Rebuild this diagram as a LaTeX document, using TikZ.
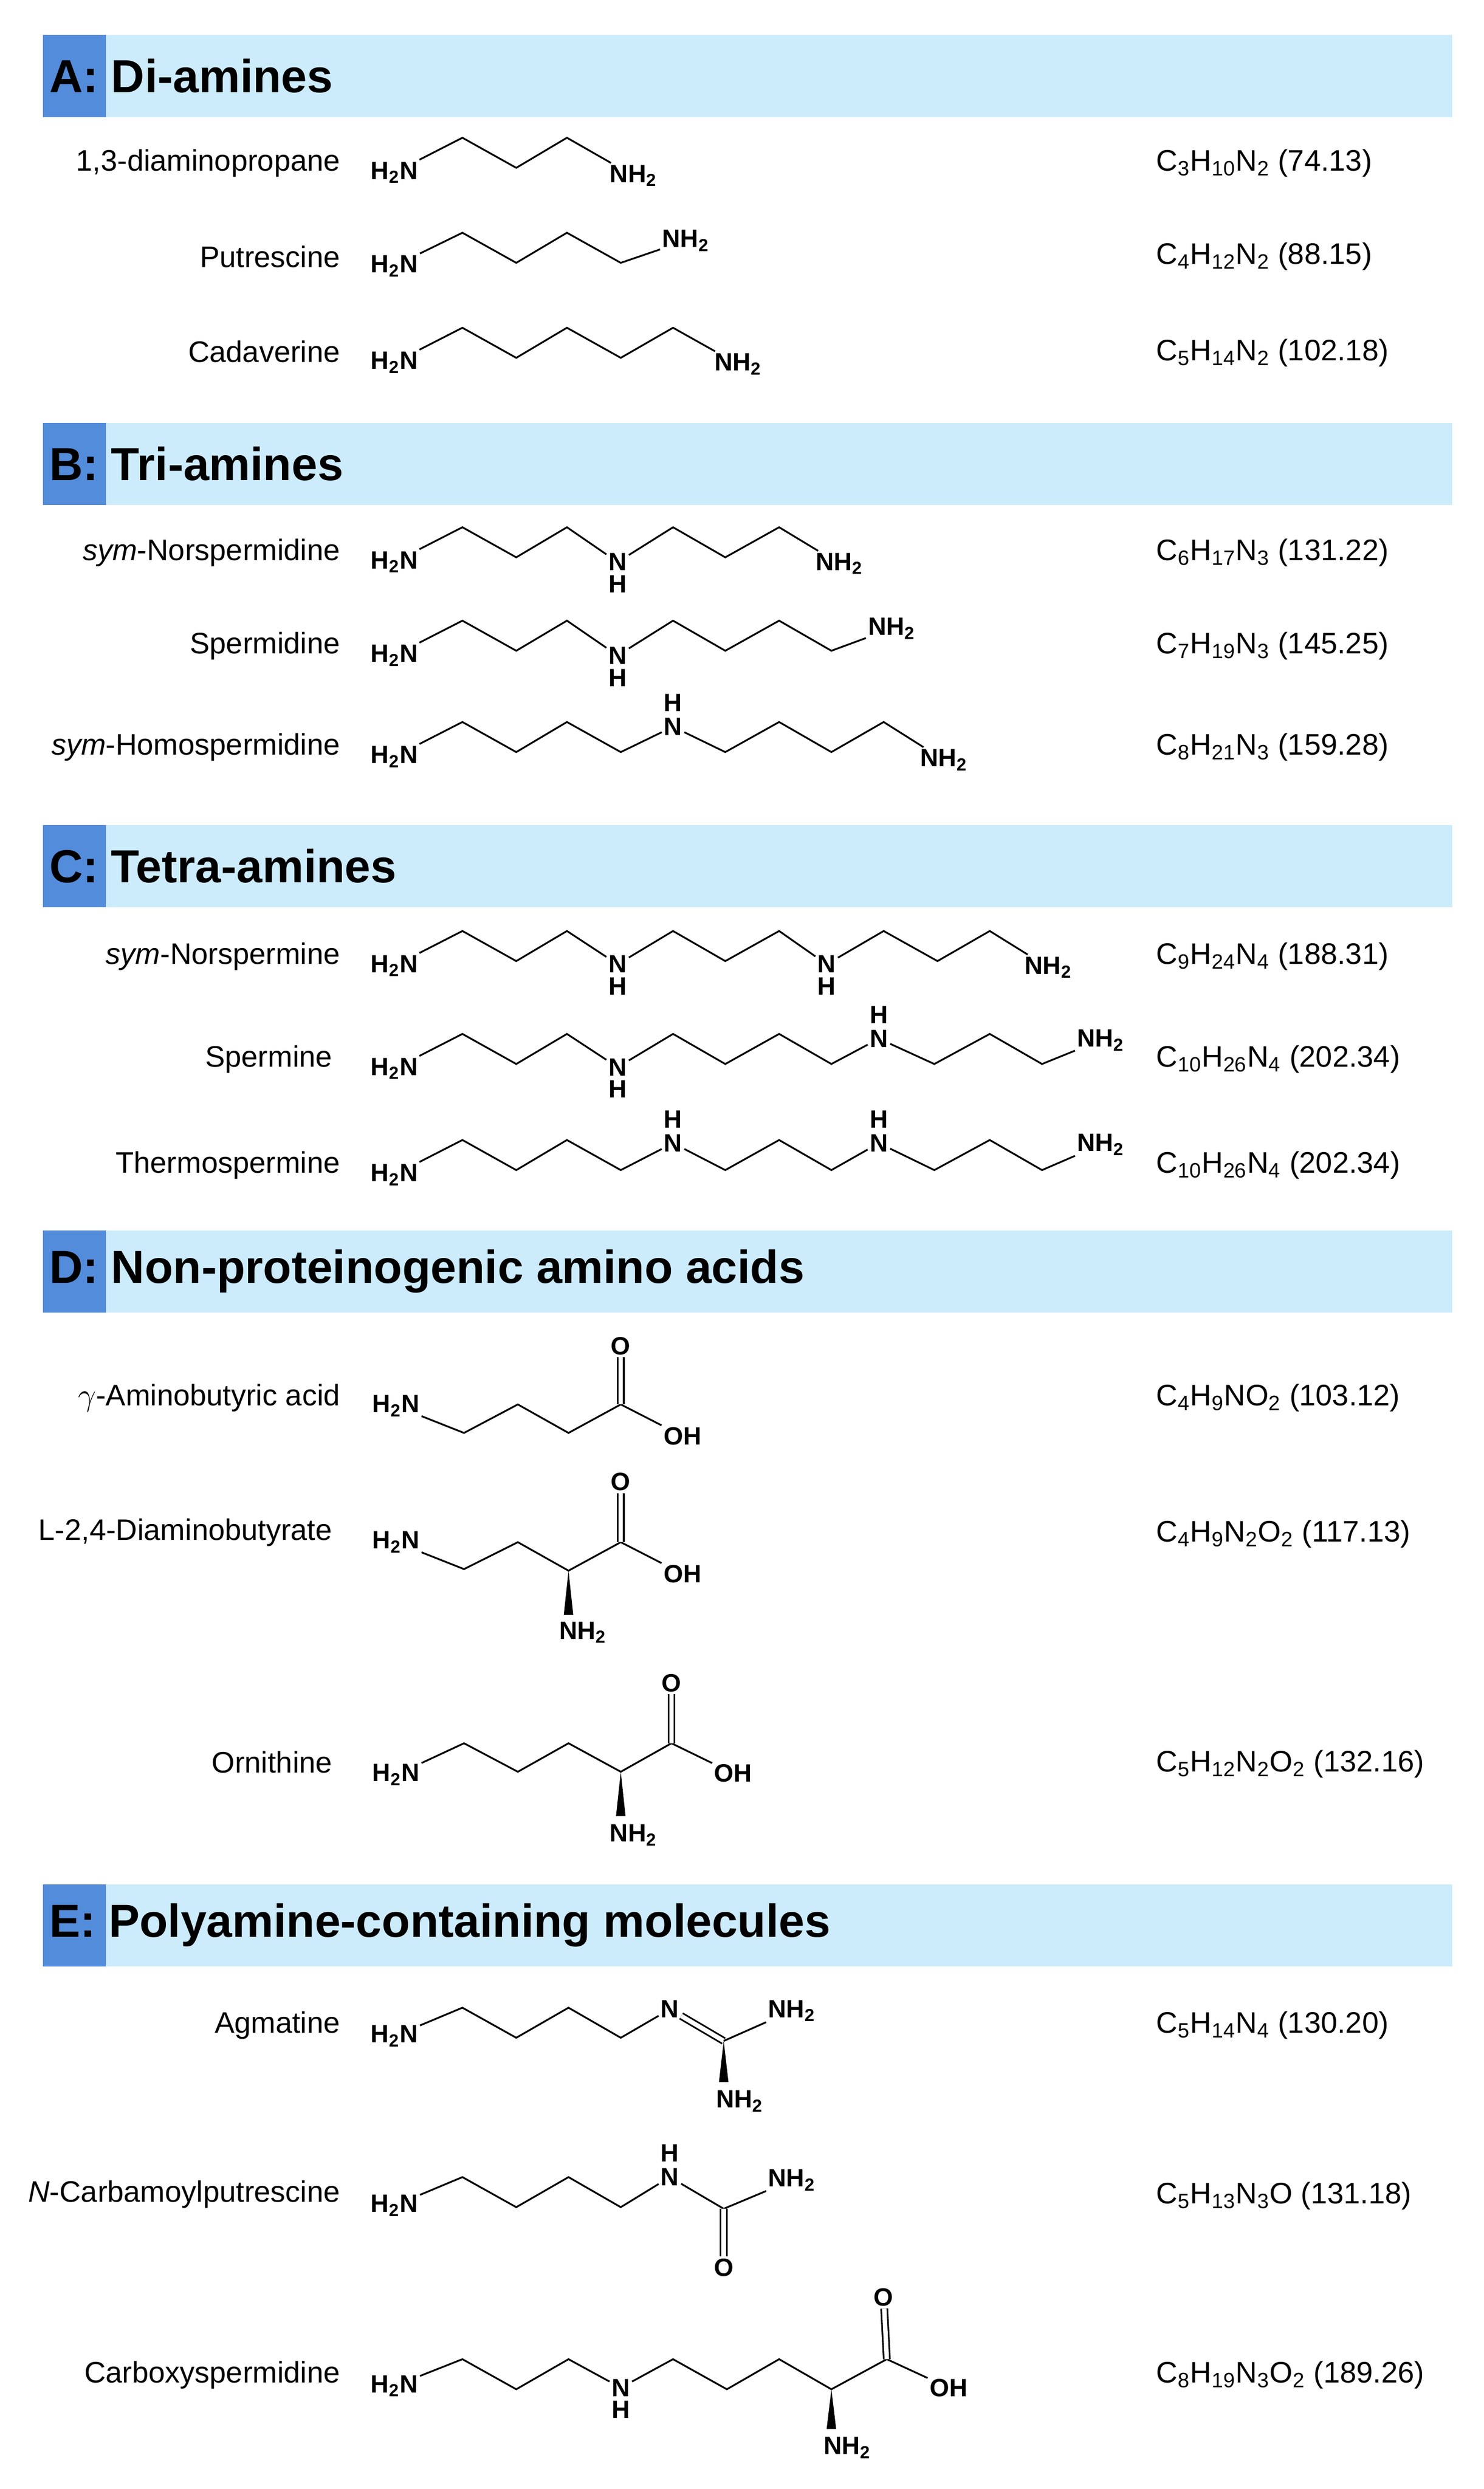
\documentclass[tikz,border=0pt]{standalone}
\usepackage{fontspec}
\setmainfont{Liberation Sans}
\definecolor{bandc}{RGB}{204,236,252}
\definecolor{tabc}{RGB}{84,140,220}
\begin{document}
\begin{tikzpicture}[x=0.03cm,y=-0.03cm,
  bd/.style={line width=0.95pt},
  dbl/.style={line width=0.9pt,double,double distance=2.4pt},
  atm/.style={font=\bfseries\fontsize{13.5}{13.5}\selectfont,inner sep=1pt},
  nm/.style={font=\fontsize{16}{16}\selectfont,anchor=east,inner sep=0pt},
  fm/.style={font=\fontsize{16}{16}\selectfont,anchor=west,inner sep=0pt},
  band/.style={fill=bandc,draw=none},
  tab/.style={fill=tabc,draw=none},
  ttl/.style={font=\bfseries\fontsize{25}{25}\selectfont,anchor=west,inner sep=0pt}]
\useasboundingbox (0,0) rectangle (937,1572);
\fill[white] (0,0) rectangle (937,1572);
% headers
\foreach \y/\t [count=\i] in {22/{A:~Di-amines},267/{B:~Tri-amines},521/{C:~Tetra-amines},777/{D:~Non-proteinogenic amino acids},1190/{E:~Polyamine-containing molecules}}{
  \fill[band] (27,\y) rectangle (917,\y+52);
  \fill[tab] (27,\y) rectangle (67,\y+52);
  \node[ttl] (h\i) at (31,\y+26) {\t};
}
% names
\node[nm] (m1) at (215,103) {1,3-diaminopropane};
\node[nm] (m2) at (215,162) {Putrescine};
\node[nm] (m3) at (215,222) {Cadaverine};
\node[nm] (m4) at (215,349) {\textit{sym}-Norspermidine};
\node[nm] (m5) at (215,408) {Spermidine};
\node[nm] (m6) at (215,472) {\textit{sym}-Homospermidine};
\node[nm] (m7) at (215,604) {\textit{sym}-Norspermine};
\node[nm] (m8) at (210,669) {Spermine};
\node[nm] (m9) at (215,736) {Thermospermine};
\node[nm] (m10) at (215,883) {$\gamma$-Aminobutyric acid};
\node[nm] (m11) at (210,968) {L-2,4-Diaminobutyrate};
\node[nm] (m12) at (210,1113) {Ornithine};
\node[nm] (m13) at (215,1279) {Agmatine};
\node[nm] (m14) at (215,1386) {\textit{N}-Carbamoylputrescine};
\node[nm] (m15) at (215,1500) {Carboxyspermidine};
% formulas
\node[fm] (f1) at (730,103) {C\textsubscript{3}H\textsubscript{10}N\textsubscript{2} (74.13)};
\node[fm] (f2) at (730,162) {C\textsubscript{4}H\textsubscript{12}N\textsubscript{2} (88.15)};
\node[fm] (f3) at (730,223) {C\textsubscript{5}H\textsubscript{14}N\textsubscript{2} (102.18)};
\node[fm] (f4) at (730,349) {C\textsubscript{6}H\textsubscript{17}N\textsubscript{3} (131.22)};
\node[fm] (f5) at (730,408) {C\textsubscript{7}H\textsubscript{19}N\textsubscript{3} (145.25)};
\node[fm] (f6) at (730,472) {C\textsubscript{8}H\textsubscript{21}N\textsubscript{3} (159.28)};
\node[fm] (f7) at (730,604) {C\textsubscript{9}H\textsubscript{24}N\textsubscript{4} (188.31)};
\node[fm] (f8) at (730,669) {C\textsubscript{10}H\textsubscript{26}N\textsubscript{4} (202.34)};
\node[fm] (f9) at (730,736) {C\textsubscript{10}H\textsubscript{26}N\textsubscript{4} (202.34)};
\node[fm] (f10) at (730,883) {C\textsubscript{4}H\textsubscript{9}NO\textsubscript{2} (103.12)};
\node[fm] (f11) at (730,969) {C\textsubscript{4}H\textsubscript{9}N\textsubscript{2}O\textsubscript{2} (117.13)};
\node[fm] (f12) at (730,1114) {C\textsubscript{5}H\textsubscript{12}N\textsubscript{2}O\textsubscript{2} (132.16)};
\node[fm] (f13) at (730,1279) {C\textsubscript{5}H\textsubscript{14}N\textsubscript{4} (130.20)};
\node[fm] (f14) at (730,1387) {C\textsubscript{5}H\textsubscript{13}N\textsubscript{3}O (131.18)};
\node[fm] (f15) at (730,1500) {C\textsubscript{8}H\textsubscript{19}N\textsubscript{3}O\textsubscript{2} (189.26)};

% ---- A1 1,3-diaminopropane
\node[atm] (a1) at (249,109) {H\textsubscript{2}N};
\coordinate (a1c1) at (292,87); \coordinate (a1c2) at (326,106); \coordinate (a1c3) at (358,87);
\node[atm] (a1e) at (400,111) {NH\textsubscript{2}};
\draw[bd] (a1) -- (a1c1) -- (a1c2) -- (a1c3) -- (a1e);
% ---- A2 putrescine
\node[atm] (a2) at (249,168) {H\textsubscript{2}N};
\coordinate (a2c1) at (292,147); \coordinate (a2c2) at (326,166); \coordinate (a2c3) at (358,147); \coordinate (a2c4) at (392,166);
\node[atm] (a2e) at (433,152) {NH\textsubscript{2}};
\draw[bd] (a2) -- (a2c1) -- (a2c2) -- (a2c3) -- (a2c4) -- (a2e);
% ---- A3 cadaverine
\node[atm] (a3) at (249,229) {H\textsubscript{2}N};
\coordinate (a3c1) at (292,207); \coordinate (a3c2) at (326,226); \coordinate (a3c3) at (358,207); \coordinate (a3c4) at (392,226); \coordinate (a3c5) at (425,207);
\node[atm] (a3e) at (466,230) {NH\textsubscript{2}};
\draw[bd] (a3) -- (a3c1) -- (a3c2) -- (a3c3) -- (a3c4) -- (a3c5) -- (a3e);

% ---- B1 sym-norspermidine
\node[atm] (b1) at (249,355) {H\textsubscript{2}N};
\coordinate (b1c1) at (292,333); \coordinate (b1c2) at (326,352); \coordinate (b1c3) at (358,333);
\node[atm] (b1n) at (390,355) {N}; \node[atm] (b1h) at (390,369) {H};
\coordinate (b1c4) at (425,333); \coordinate (b1c5) at (458,352); \coordinate (b1c6) at (492,333);
\node[atm] (b1e) at (530,356) {NH\textsubscript{2}};
\draw[bd] (b1) -- (b1c1) -- (b1c2) -- (b1c3) -- (b1n) -- (b1c4) -- (b1c5) -- (b1c6) -- (b1e);
% ---- B2 spermidine
\node[atm] (b2) at (249,414) {H\textsubscript{2}N};
\coordinate (b2c1) at (292,392); \coordinate (b2c2) at (326,411); \coordinate (b2c3) at (358,392);
\node[atm] (b2n) at (390,414) {N}; \node[atm] (b2h) at (390,428) {H};
\coordinate (b2c4) at (425,392); \coordinate (b2c5) at (458,411); \coordinate (b2c6) at (492,392); \coordinate (b2c7) at (525,411);
\node[atm] (b2e) at (563,397) {NH\textsubscript{2}};
\draw[bd] (b2) -- (b2c1) -- (b2c2) -- (b2c3) -- (b2n) -- (b2c4) -- (b2c5) -- (b2c6) -- (b2c7) -- (b2e);
% ---- B3 sym-homospermidine
\node[atm] (b3) at (249,478) {H\textsubscript{2}N};
\coordinate (b3c1) at (292,456); \coordinate (b3c2) at (326,475); \coordinate (b3c3) at (358,456); \coordinate (b3c4) at (392,475);
\node[atm] (b3n) at (425,459) {N}; \node[atm] (b3h) at (425,444) {H};
\coordinate (b3c5) at (458,475); \coordinate (b3c6) at (492,456); \coordinate (b3c7) at (525,475); \coordinate (b3c8) at (558,456);
\node[atm] (b3e) at (596,480) {NH\textsubscript{2}};
\draw[bd] (b3) -- (b3c1) -- (b3c2) -- (b3c3) -- (b3c4) -- (b3n) -- (b3c5) -- (b3c6) -- (b3c7) -- (b3c8) -- (b3e);

% ---- C1 sym-norspermine
\node[atm] (c1) at (249,610) {H\textsubscript{2}N};
\coordinate (c1c1) at (292,588); \coordinate (c1c2) at (326,607); \coordinate (c1c3) at (358,588);
\node[atm] (c1n) at (390,609) {N}; \node[atm] (c1h) at (390,623) {H};
\coordinate (c1c4) at (425,588); \coordinate (c1c5) at (458,607); \coordinate (c1c6) at (492,588);
\node[atm] (c1m) at (522,609) {N}; \node[atm] (c1k) at (522,623) {H};
\coordinate (c1c7) at (558,588); \coordinate (c1c8) at (592,607); \coordinate (c1c9) at (625,588);
\node[atm] (c1e) at (662,611) {NH\textsubscript{2}};
\draw[bd] (c1) -- (c1c1) -- (c1c2) -- (c1c3) -- (c1n) -- (c1c4) -- (c1c5) -- (c1c6) -- (c1m) -- (c1c7) -- (c1c8) -- (c1c9) -- (c1e);
% ---- C2 spermine
\node[atm] (c2) at (249,675) {H\textsubscript{2}N};
\coordinate (c2c1) at (292,653); \coordinate (c2c2) at (326,672); \coordinate (c2c3) at (358,653);
\node[atm] (c2n) at (390,674) {N}; \node[atm] (c2h) at (390,688) {H};
\coordinate (c2c4) at (425,653); \coordinate (c2c5) at (458,672); \coordinate (c2c6) at (492,653); \coordinate (c2c7) at (525,672);
\node[atm] (c2m) at (555,656) {N}; \node[atm] (c2k) at (555,641) {H};
\coordinate (c2c8) at (590,672); \coordinate (c2c9) at (625,653); \coordinate (c2c10) at (658,672);
\node[atm] (c2e) at (695,657) {NH\textsubscript{2}};
\draw[bd] (c2) -- (c2c1) -- (c2c2) -- (c2c3) -- (c2n) -- (c2c4) -- (c2c5) -- (c2c6) -- (c2c7) -- (c2m) -- (c2c8) -- (c2c9) -- (c2c10) -- (c2e);
% ---- C3 thermospermine
\node[atm] (c3) at (249,742) {H\textsubscript{2}N};
\coordinate (c3c1) at (292,720); \coordinate (c3c2) at (326,739); \coordinate (c3c3) at (358,720); \coordinate (c3c4) at (392,739);
\node[atm] (c3n) at (425,722) {N}; \node[atm] (c3h) at (425,707) {H};
\coordinate (c3c5) at (458,739); \coordinate (c3c6) at (492,720); \coordinate (c3c7) at (525,739);
\node[atm] (c3m) at (555,722) {N}; \node[atm] (c3k) at (555,707) {H};
\coordinate (c3c8) at (590,739); \coordinate (c3c9) at (625,720); \coordinate (c3c10) at (658,739);
\node[atm] (c3e) at (695,723) {NH\textsubscript{2}};
\draw[bd] (c3) -- (c3c1) -- (c3c2) -- (c3c3) -- (c3c4) -- (c3n) -- (c3c5) -- (c3c6) -- (c3c7) -- (c3m) -- (c3c8) -- (c3c9) -- (c3c10) -- (c3e);

% ---- D1 GABA
\node[atm] (d1) at (250,888) {H\textsubscript{2}N};
\coordinate (d1c1) at (293,905); \coordinate (d1c2) at (327,887); \coordinate (d1c3) at (359,905); \coordinate (d1c4) at (392,887);
\node[atm] (d1o) at (392,850) {O}; \node[atm] (d1oh) at (431,907) {OH};
\draw[bd] (d1) -- (d1c1) -- (d1c2) -- (d1c3) -- (d1c4) -- (d1oh);
\draw[dbl] (d1c4) -- (d1o);
% ---- D2 L-2,4-diaminobutyrate
\node[atm] (d2) at (250,974) {H\textsubscript{2}N};
\coordinate (d2c1) at (293,991); \coordinate (d2c2) at (327,974); \coordinate (d2c3) at (359,992); \coordinate (d2c4) at (392,974);
\node[atm] (d2o) at (392,936) {O}; \node[atm] (d2oh) at (431,994) {OH};
\node[atm] (d2n) at (368,1031) {NH\textsubscript{2}};
\draw[bd] (d2) -- (d2c1) -- (d2c2) -- (d2c3) -- (d2c4) -- (d2oh);
\draw[dbl] (d2c4) -- (d2o);
\coordinate (d2wl) at (356,1020); \coordinate (d2wr) at (362,1020);
\fill (d2c3) -- (d2wl) -- (d2wr) -- cycle;
% ---- D3 ornithine
\node[atm] (d3) at (250,1121) {H\textsubscript{2}N};
\coordinate (d3c1) at (293,1101); \coordinate (d3c2) at (327,1119); \coordinate (d3c3) at (359,1101); \coordinate (d3c4) at (392,1119); \coordinate (d3c5) at (424,1101);
\node[atm] (d3o) at (424,1063) {O}; \node[atm] (d3oh) at (463,1120) {OH};
\node[atm] (d3n) at (400,1159) {NH\textsubscript{2}};
\draw[bd] (d3) -- (d3c1) -- (d3c2) -- (d3c3) -- (d3c4) -- (d3c5) -- (d3oh);
\draw[dbl] (d3c5) -- (d3o);
\coordinate (d3wl) at (389,1147); \coordinate (d3wr) at (395,1147);
\fill (d3c4) -- (d3wl) -- (d3wr) -- cycle;

% ---- E1 agmatine
\node[atm] (e1) at (249,1286) {H\textsubscript{2}N};
\coordinate (e1c1) at (292,1268); \coordinate (e1c2) at (326,1287); \coordinate (e1c3) at (359,1268); \coordinate (e1c4) at (392,1287);
\node[atm] (e1n) at (423,1269) {N}; \coordinate (e1c5) at (457,1289);
\node[atm] (e1a) at (500,1270) {NH\textsubscript{2}}; \node[atm] (e1b) at (467,1327) {NH\textsubscript{2}};
\draw[bd] (e1) -- (e1c1) -- (e1c2) -- (e1c3) -- (e1c4) -- (e1n);
\draw[dbl] (e1n) -- (e1c5);
\draw[bd] (e1c5) -- (e1a);
\coordinate (e1wl) at (454,1315); \coordinate (e1wr) at (460,1315);
\fill (e1c5) -- (e1wl) -- (e1wr) -- cycle;
% ---- E2 N-carbamoylputrescine
\node[atm] (e2) at (249,1393) {H\textsubscript{2}N};
\coordinate (e2c1) at (292,1375); \coordinate (e2c2) at (326,1394); \coordinate (e2c3) at (359,1375); \coordinate (e2c4) at (392,1394);
\node[atm] (e2n) at (423,1375) {N}; \node[atm] (e2h) at (423,1360) {H};
\coordinate (e2c5) at (457,1395);
\node[atm] (e2a) at (500,1377) {NH\textsubscript{2}}; \node[atm] (e2o) at (457,1432) {O};
\draw[bd] (e2) -- (e2c1) -- (e2c2) -- (e2c3) -- (e2c4) -- (e2n) -- (e2c5) -- (e2a);
\draw[dbl] (e2c5) -- (e2o);
% ---- E3 carboxyspermidine
\node[atm] (e3) at (249,1507) {H\textsubscript{2}N};
\coordinate (e3c1) at (292,1490); \coordinate (e3c2) at (326,1509); \coordinate (e3c3) at (359,1490);
\node[atm] (e3n) at (392,1508) {N}; \node[atm] (e3h) at (392,1522) {H};
\coordinate (e3c4) at (425,1490); \coordinate (e3c5) at (459,1509); \coordinate (e3c6) at (492,1490); \coordinate (e3c7) at (525,1509); \coordinate (e3c8) at (560,1490);
\node[atm] (e3o) at (558,1451) {O}; \node[atm] (e3oh) at (599,1508) {OH};
\node[atm] (e3a) at (535,1546) {NH\textsubscript{2}};
\draw[bd] (e3) -- (e3c1) -- (e3c2) -- (e3c3) -- (e3n) -- (e3c4) -- (e3c5) -- (e3c6) -- (e3c7) -- (e3c8) -- (e3oh);
\draw[dbl] (e3c8) -- (e3o);
\coordinate (e3wl) at (522,1534); \coordinate (e3wr) at (528,1534);
\fill (e3c7) -- (e3wl) -- (e3wr) -- cycle;
\end{tikzpicture}
\end{document}
